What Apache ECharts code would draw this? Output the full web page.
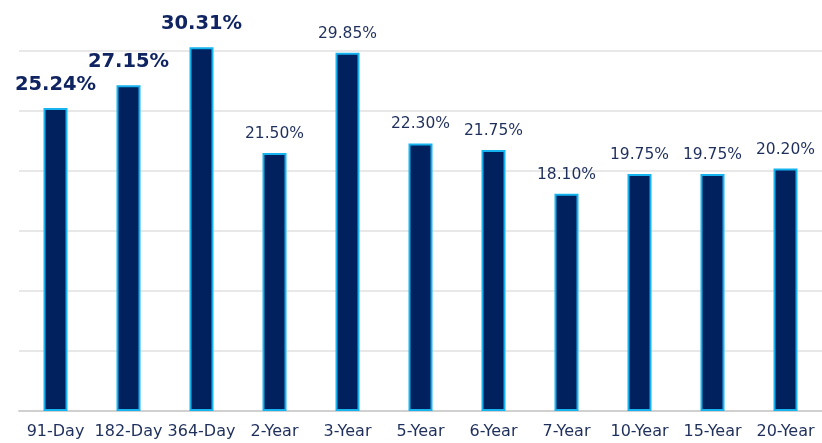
<!DOCTYPE html>
<html><head><meta charset="utf-8">
<script src="https://cdn.jsdelivr.net/npm/echarts@6/dist/echarts.min.js"></script>
<style>html,body{margin:0;padding:0;background:#fff}#c{width:822px;height:443px}</style>
</head><body><div id="c"></div>
<script>
const categories = ['91-Day','182-Day','364-Day','2-Year','3-Year','5-Year','6-Year','7-Year','10-Year','15-Year','20-Year'];
const values = [25.24, 27.15, 30.31, 21.50, 29.85, 22.30, 21.75, 18.10, 19.75, 19.75, 20.20];
const boldCount = 3;

const font = '"DejaVu Sans", Verdana, sans-serif';
const data = values.map((v, i) => {
  const d = { value: v };
  if (i < boldCount) {
    d.label = { fontSize: 19.5, fontWeight: 'bold', color: '#0f2460', distance: 13 };
  }
  return d;
});
const chart = echarts.init(document.getElementById('c'));
chart.setOption({
  animation: false,
  grid: { left: 19, width: 807, top: 51, bottom: 32, containLabel: false },
  xAxis: {
    type: 'category', data: categories,
    axisLine: { lineStyle: { color: '#d0d0d0', width: 2 } },
    axisTick: { show: false },
    axisLabel: { color: '#1f2f5c', fontSize: 16, fontFamily: font, margin: 13, interval: 0 }
  },
  yAxis: {
    type: 'value', min: 0, max: 30, interval: 5,
    axisLabel: { show: false }, axisLine: { show: false }, axisTick: { show: false },
    splitLine: { lineStyle: { color: '#e0e0e0', width: 1.5 } }
  },
  series: [{
    type: 'bar', data: data, barWidth: 24, clip: false,
    itemStyle: { color: '#00205e', borderColor: '#16b4ee', borderWidth: 2 },
    label: {
      show: true, position: 'top', distance: 11,
      formatter: p => p.value.toFixed(2) + '%',
      fontFamily: font, fontSize: 15.5, color: '#1f2f5c'
    }
  }]
});
</script></body></html>
